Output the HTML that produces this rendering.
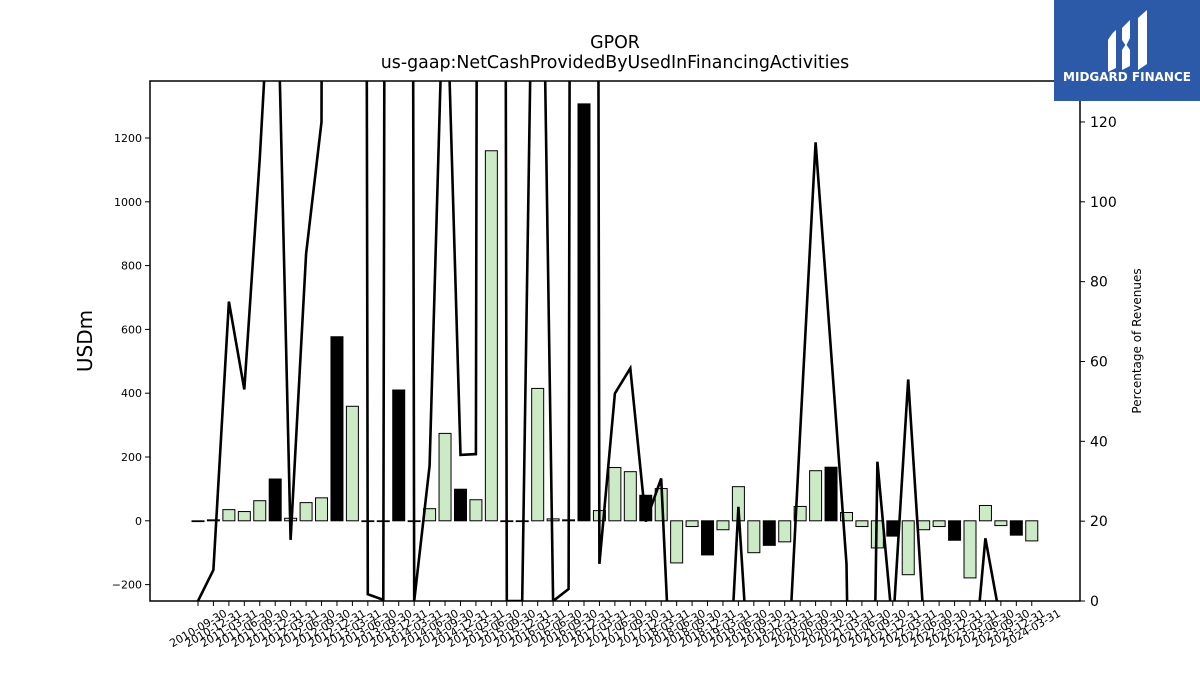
<!DOCTYPE html>
<html><head><meta charset="utf-8"><style>
body{margin:0;background:#fff;overflow:hidden;}
svg{display:block;font-family:"DejaVu Sans","Liberation Sans",sans-serif;}
</style></head><body>
<svg id="chart" width="1200" height="675" viewBox="0 0 1200 675" xmlns="http://www.w3.org/2000/svg">
<rect width="1200" height="675" fill="#fff"/>
<text x="615" y="48" font-size="17.4" text-anchor="middle">GPOR</text>
<text x="615" y="68" font-size="17.4" text-anchor="middle">us-gaap:NetCashProvidedByUsedInFinancingActivities</text>
<text x="92" y="341" font-size="20" text-anchor="middle" transform="rotate(-90 92 341)">USDm</text>
<text x="1141" y="341" font-size="12" text-anchor="middle" transform="rotate(-90 1141 341)">Percentage of Revenues</text>
<defs><clipPath id="plotclip"><rect x="150" y="81" width="930" height="520"/></clipPath></defs>
<g id="bars" clip-path="url(#plotclip)"></g>
<g id="line" clip-path="url(#plotclip)"></g>
<g id="axes"></g>
<rect x="150" y="81" width="930" height="520" fill="none" stroke="#000" stroke-width="1.5"/>
<g>
<rect x="1054" y="0" width="146" height="101" fill="#2c5aa9"/>
<path d="M1108 40 Q1112 33 1116 30 L1116 68 L1108 72 Z" fill="#fff"/>
<path d="M1122 28 L1130 20 L1130 38 L1126 46 L1122 40 Z" fill="#fff"/>
<path d="M1122 50 L1126 44 L1130 50 L1130 66 L1122 70 Z" fill="#fff"/>
<path d="M1138 18 L1147 10 L1147 64 L1138 70 Z" fill="#fff"/>
<text x="1127" y="81" font-size="12" font-weight="bold" fill="#fff" text-anchor="middle">MIDGARD FINANCE</text>
</g>
</svg>
<script>
const dates = [];
(function(){ let y=2010, q=3; const ends=['03-31','06-30','09-30','12-31'];
 for(let i=0;i<55;i++){ dates.push(y+'-'+ends[q-1]); q++; if(q>4){q=1;y++;} } })();
const barValues = [0,3,35,29,63,131,8,57,72,577,359,0,0,410,0,38,274,99,66,1160,0,0,415,6,3,1307,32,167,154,80,101,-132,-18,-107,-28,107,-100,-77,-66,45,157,168,26,-18,-85,-48,-169,-28,-18,-61,-179,48,-15,-45,-63];
const barBlack = [0,1,0,0,0,1,0,0,0,1,0,0,0,1,0,0,0,1,0,0,0,1,0,0,1,1,0,0,0,1,0,0,0,1,0,0,0,1,0,0,0,1,0,0,0,1,0,0,0,1,0,0,0,1,0];
const pctValues = [0,7.8,75,53,111,180,15.3,87,120,2000,2000,1.7,0.3,2000,0,33.9,170,36.6,36.8,2000,0,0,254,0,3,2000,9.3,52,58.3,19.9,30.7,-52,-50,-50,-50,23.6,-37,-50,-32.7,42.5,114.9,62.7,9.3,-233,34.9,-7.1,55.5,-5,-20,-20,-26.7,15.7,-5.5,-20,-20];
const leftTicks = [-200,0,200,400,600,800,1000,1200];
const rightTicks = [0,20,40,60,80,100,120];

const NS='http://www.w3.org/2000/svg';
function el(tag, attrs, parent){ const e=document.createElementNS(NS,tag); for(const k in attrs) e.setAttribute(k,attrs[k]); parent.appendChild(e); return e; }
const xPos = i => 198 + i*15.44;
const yL = v => 520.8 - v*0.319;
const yR = v => 601 - v*3.992;
const bars=document.getElementById('bars'), line=document.getElementById('line'), axes=document.getElementById('axes');

barValues.forEach((v,i)=>{
  const y0=yL(0), y1=yL(v);
  const r=el('rect',{x:xPos(i)-6,y:Math.min(y0,y1),width:12,height:Math.max(Math.abs(y1-y0),0.8),fill:barBlack[i]?'#000':'#cdeac6',stroke:'#000','stroke-width':1},bars);
  
  
});
const pts = pctValues.map((v,i)=>xPos(i).toFixed(1)+','+yR(v).toFixed(1)).join(' ');
const pl=el('polyline',{points:pts,fill:'none',stroke:'#000','stroke-width':2.6,'stroke-linejoin':'miter'},line);



leftTicks.forEach(t=>{
  const y=yL(t);
  el('line',{x1:145,y1:y,x2:150,y2:y,stroke:'#000','stroke-width':1},axes);
  const tx=el('text',{x:142,y:y+4,'font-size':11,'text-anchor':'end'},axes);
  tx.textContent=(t<0?'\u2212'+(-t):t);
  
  
});
rightTicks.forEach(t=>{
  const y=yR(t);
  el('line',{x1:1080,y1:y,x2:1085,y2:y,stroke:'#000','stroke-width':1},axes);
  const tx=el('text',{x:1090,y:y+5,'font-size':14},axes);
  tx.textContent=t;
  
  
});
dates.forEach((d,i)=>{
  const x=xPos(i);
  el('line',{x1:x,y1:601,x2:x,y2:606,stroke:'#000','stroke-width':1},axes);
  const tx=el('text',{x:x,y:632,'font-size':11,'text-anchor':'middle',transform:'rotate(-30 '+x+' 628)'},axes);
  tx.textContent=d;
  
  
});
</script>
</body></html>
